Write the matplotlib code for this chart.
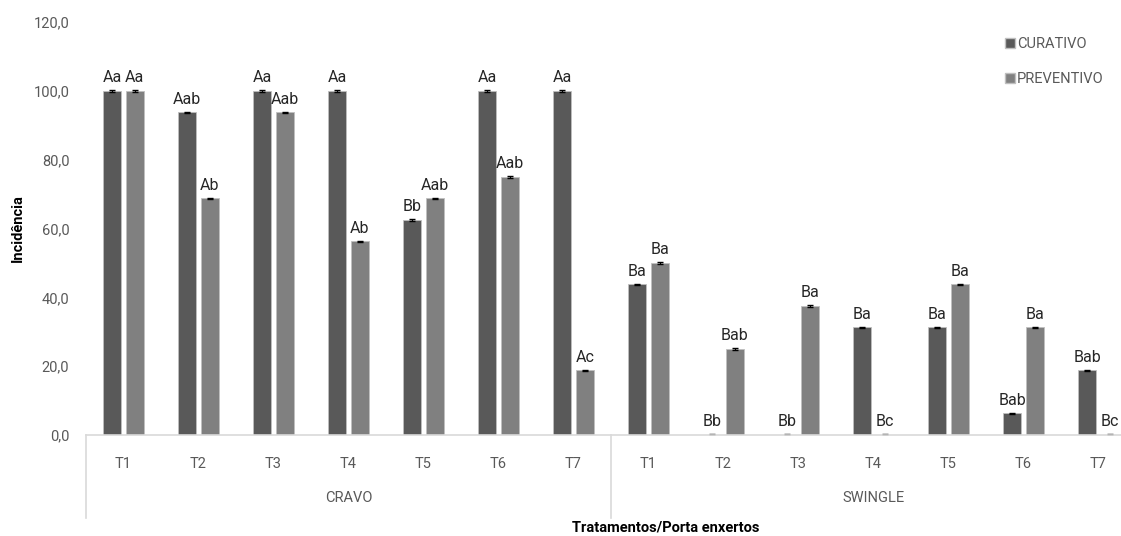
import matplotlib.pyplot as plt
import matplotlib.transforms as mtransforms
from matplotlib.patches import Patch
import numpy as np

plt.rcParams['font.family'] = ['Roboto', 'DejaVu Sans']

grupos = ["CRAVO", "SWINGLE"]
tratamentos = ["T1", "T2", "T3", "T4", "T5", "T6", "T7"]

curativo = [100, 93.75, 100, 100, 62.5, 100, 100,
            43.75, 0, 0, 31.25, 31.25, 6.25, 18.75]
preventivo = [100, 68.75, 93.75, 56.25, 68.75, 75, 18.75,
              50, 25, 37.5, 0, 43.75, 31.25, 0]

letras_cur = ["Aa", "Aab", "Aa", "Aa", "Bb", "Aa", "Aa",
              "Ba", "Bb", "Bb", "Ba", "Ba", "Bab", "Bab"]
letras_prev = ["Aa", "Ab", "Aab", "Ab", "Aab", "Aab", "Ac",
               "Ba", "Bab", "Ba", "Bc", "Ba", "Ba", "Bc"]

cor_cur = "#595959"
cor_prev = "#808080"
cor_texto = "#595959"

fig = plt.figure(figsize=(11.21, 5.36), dpi=100)
ax = fig.add_axes([86 / 1121, 101 / 536, 1050 / 1121, 413 / 536])

x = np.arange(len(curativo))
largura = 0.24
desloc = 0.15

erro = dict(ecolor="black", capsize=2.5, elinewidth=0.8, capthick=1)
ax.bar(x - desloc, curativo, largura, color=cor_cur, edgecolor="#bfbfbf", linewidth=0.6,
       yerr=[0.2] * len(x), error_kw=erro)
ax.bar(x + desloc, preventivo, largura, color=cor_prev, edgecolor="#bfbfbf", linewidth=0.6,
       yerr=[0.2] * len(x), error_kw=erro)

for i in range(len(x)):
    ax.annotate(letras_cur[i], (x[i] - desloc, curativo[i]), xytext=(0, 4),
                textcoords="offset points", ha="center", va="bottom", fontsize=11.5, color="#262626")
    ax.annotate(letras_prev[i], (x[i] + desloc, preventivo[i]), xytext=(0, 4),
                textcoords="offset points", ha="center", va="bottom", fontsize=11.5, color="#262626")

ax.set_xlim(-0.5, len(x) - 0.5)
ax.set_ylim(0, 120)
ax.set_yticks(np.arange(0, 121, 20))
ax.set_yticklabels([f"{v:.1f}".replace(".", ",") for v in np.arange(0, 121, 20)])
ax.tick_params(axis="y", length=0, labelsize=10.5, colors=cor_texto, pad=12)

ax.set_xticks(x)
ax.set_xticklabels(tratamentos * 2)
ax.tick_params(axis="x", length=0, labelsize=10.5, colors=cor_texto, pad=16)

for lado in ["left", "right", "top"]:
    ax.spines[lado].set_visible(False)
ax.spines["bottom"].set_color("#d9d9d9")
ax.spines["bottom"].set_linewidth(1.2)

# linhas de separação dos grupos abaixo do eixo
trans = mtransforms.blended_transform_factory(ax.transData, ax.transAxes)
for xs in [-0.5, 6.5, 13.5]:
    ax.plot([xs, xs], [0, -0.2], transform=trans, color="#d9d9d9", lw=1.2, clip_on=False)

for g, nome in enumerate(grupos):
    ax.text(g * 7 + 3, -0.152, nome, transform=trans, ha="center", va="center",
            fontsize=10.5, color=cor_texto)

ax.set_ylabel("Incidência", fontsize=10.5, fontweight="bold", labelpad=6)
fig.text(0.594, 0.015, "Tratamentos/Porta enxertos", ha="center", va="center",
         fontsize=10.5, fontweight="bold")

handles = [Patch(facecolor=cor_cur, edgecolor="#bfbfbf"),
           Patch(facecolor=cor_prev, edgecolor="#bfbfbf")]
ax.legend(handles, ["CURATIVO", "PREVENTIVO"], loc="upper left",
          bbox_to_anchor=(992 / 1121, 0.955), bbox_transform=fig.transFigure,
          frameon=False, handlelength=0.7, handleheight=0.7, handletextpad=0.1,
          labelspacing=1.45, fontsize=10.5, labelcolor=cor_texto)

fig.savefig("out.png", dpi=100)
